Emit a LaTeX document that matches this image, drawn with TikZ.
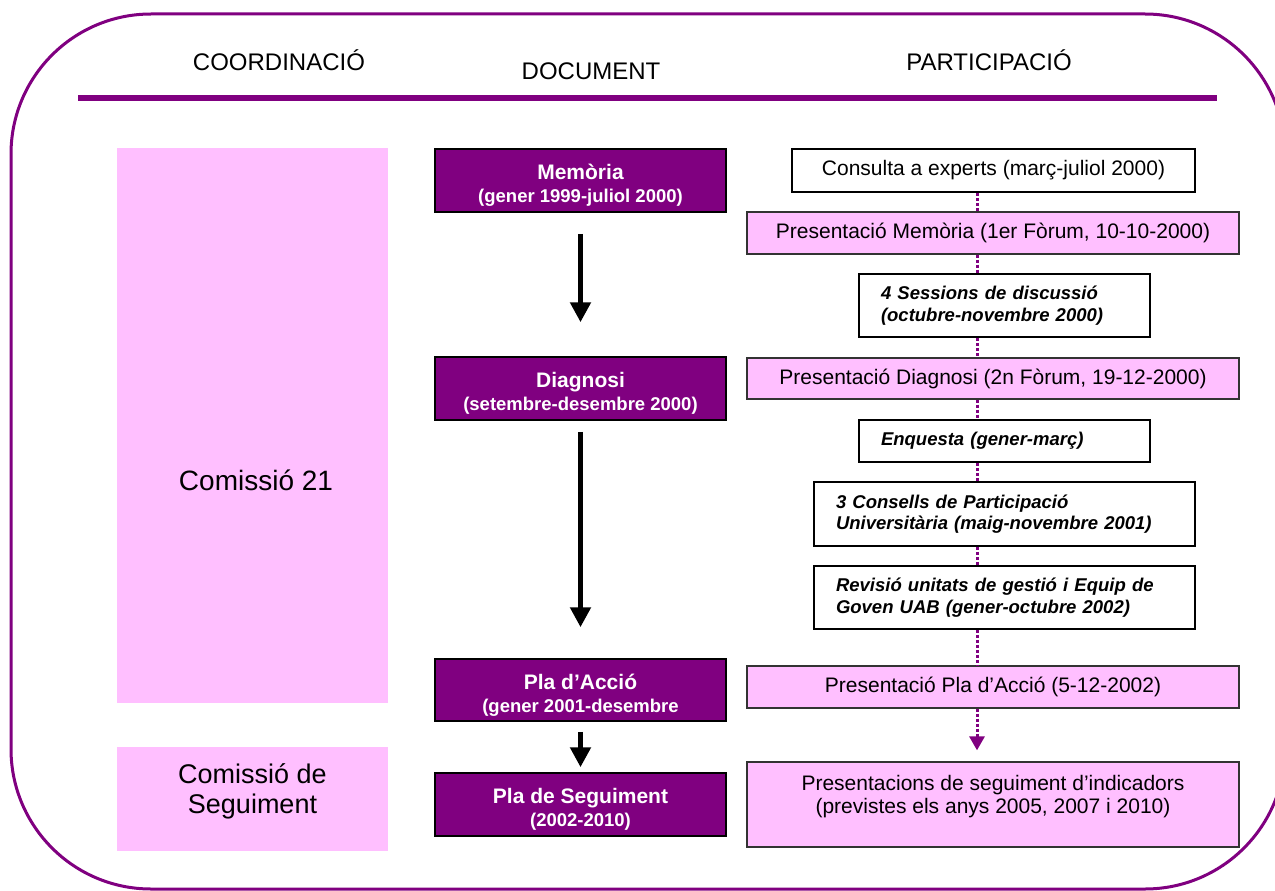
\documentclass[tikz,border=0pt]{standalone}
\usepackage{fontspec}
\setmainfont{Liberation Sans}
\usetikzlibrary{arrows.meta,calc}
\definecolor{uabpurple}{RGB}{128,0,128}
\definecolor{uabpink}{RGB}{255,191,255}
\begin{document}
\begin{tikzpicture}[x=1pt,y=-1pt,
  frame/.style={draw=uabpurple, line width=3pt, rounded corners=140pt},
  rulestyle/.style={draw=uabpurple, line width=5pt},
  header/.style={font=\fontsize{24}{28}\selectfont, inner sep=0pt},
  commbox/.style={fill=uabpink, inner sep=0pt, minimum width=271pt},
  commtext/.style={font=\fontsize{27}{30}\selectfont, align=center, inner sep=0pt},
  docbox/.style={draw=black, line width=1.5pt, fill=uabpurple, inner sep=0pt, minimum width=291pt, minimum height=63pt},
  doctitle/.style={text=white, font=\fontsize{21}{24}\selectfont\bfseries, anchor=base, inner sep=0pt},
  docsub/.style={text=white, font=\fontsize{18.5}{21}\selectfont\bfseries, anchor=base, inner sep=0pt},
  whitebox/.style={draw=black, line width=1.8pt, fill=white, inner sep=0pt, font=\fontsize{21}{24}\selectfont},
  pinkbox/.style={draw=black!80, line width=1.3pt, fill=uabpink, inner sep=0pt, minimum width=492pt, font=\fontsize{21}{24}\selectfont},
  italbox/.style={draw=black, line width=1.8pt, fill=white, align=left, font=\fontsize{18.5}{21.5}\selectfont\bfseries\itshape, inner xsep=22pt, inner ysep=0pt},
  bigarrow/.style={draw=black, line width=5pt, -{Triangle[width=20pt,length=20pt]}},
  dotline/.style={draw=uabpurple, line width=3pt, dash pattern=on 3pt off 2pt},
  dotarrow/.style={dotline, -{Triangle[width=15pt,length=14pt]}}
]
\useasboundingbox (0,0) rectangle (1275,891);
\fill[white] (0,0) rectangle (1275,891);

% outer frame and header rule
\draw[frame] (11,14) rectangle (1285,889);
\draw[rulestyle] (78,98) -- (1217,98);

% headers
\node[header] (hcoord) at (279,60) {COORDINACIÓ};
\node[header] (hdoc) at (591,71) {DOCUMENT};
\node[header] (hpart) at (989,60) {PARTICIPACIÓ};

% coordination column
\node[commbox, minimum height=555pt] (c21) at (252.5,425.5) {};
\node[commtext, font=\fontsize{28}{30}\selectfont] (c21t) at (256,480) {Comissió 21};
\node[commbox, minimum height=104pt] (cs) at (252.5,799) {};
\node[commtext] (cst) at (252.5,791) {Comissió de\\Seguiment};

% document column
\node[docbox] (mem) at (580.5,180.5) {};
\node[doctitle] (memt) at ($(mem.north)+(0,31.5)$) {Memòria};
\node[docsub] (mems) at ($(mem.north)+(0,54)$) {(gener 1999-juliol 2000)};

\node[docbox] (diag) at (580.5,388.5) {};
\node[doctitle] (diagt) at ($(diag.north)+(0,31.5)$) {Diagnosi};
\node[docsub] (diags) at ($(diag.north)+(0,54)$) {(setembre-desembre 2000)};

\node[docbox, minimum height=62pt] (pa) at (580.5,690) {};
\node[doctitle] (pat) at ($(pa.north)+(0,31.5)$) {Pla d’Acció};
\node[docsub] (pas) at ($(pa.north)+(0,54)$) {(gener 2001-desembre};

\node[docbox] (ps) at (580.5,804.5) {};
\node[doctitle] (pst) at ($(ps.north)+(0,31.5)$) {Pla de Seguiment};
\node[docsub] (pss) at ($(ps.north)+(0,54)$) {(2002-2010)};

\draw[bigarrow, shorten <=21pt, shorten >=34pt] (mem.south) -- (diag.north);
\draw[bigarrow, shorten <=11pt, shorten >=31pt] (diag.south) -- (pa.north);
\draw[bigarrow, shorten <=10pt, shorten >=5pt] (pa.south) -- (ps.north);

% participation column
\coordinate (col) at (977,0);
\node[whitebox, minimum width=403pt, minimum height=43pt] (cons) at (993.5,170.5) {Consulta a experts (març-juliol 2000)};
\node[pinkbox, minimum height=42pt] (pm) at (993,233) {Presentació Memòria (1er Fòrum, 10-10-2000)};
\node[italbox, text width=247pt, minimum height=63pt] (ses) at (1004.5,305.5) {4 Sessions de discussió\\(octubre-novembre 2000)};
\node[pinkbox, minimum height=41pt] (pd) at (993,378.5) {Presentació Diagnosi (2n Fòrum, 19-12-2000)};
\node[italbox, text width=247pt, minimum height=42pt] (enq) at (1004.5,441) {Enquesta (gener-març)};
\node[italbox, text width=337pt, minimum height=64pt] (cons3) at (1004.5,514) {3 Consells de Participació\\Universitària (maig-novembre 2001)};
\node[italbox, text width=337pt, minimum height=63pt] (rev) at (1004.5,597.5) {Revisió unitats de gestió i Equip de\\Goven UAB (gener-octubre 2002)};
\node[pinkbox, minimum height=42pt] (ppa) at (993,687) {Presentació Pla d’Acció (5-12-2002)};
\node[pinkbox, minimum height=85pt] (pres) at (993,804.5) {};
\node[font=\fontsize{21}{23}\selectfont, align=center, inner sep=0pt] (prest) at (993,796.5) {Presentacions de seguiment d’indicadors\\(previstes els anys 2005, 2007 i 2010)};

\draw[dotline] (cons.south -| col) -- (pm.north -| col);
\draw[dotline] (pm.south -| col) -- (ses.north -| col);
\draw[dotline] (ses.south -| col) -- (pd.north -| col);
\draw[dotline] (pd.south -| col) -- (enq.north -| col);
\draw[dotline] (enq.south -| col) -- (cons3.north -| col);
\draw[dotline] (cons3.south -| col) -- (rev.north -| col);
\draw[dotline] (rev.south -| col) -- (ppa.north -| col);
\draw[dotarrow, shorten >=11pt] (ppa.south -| col) -- (pres.north -| col);
\end{tikzpicture}
\end{document}
